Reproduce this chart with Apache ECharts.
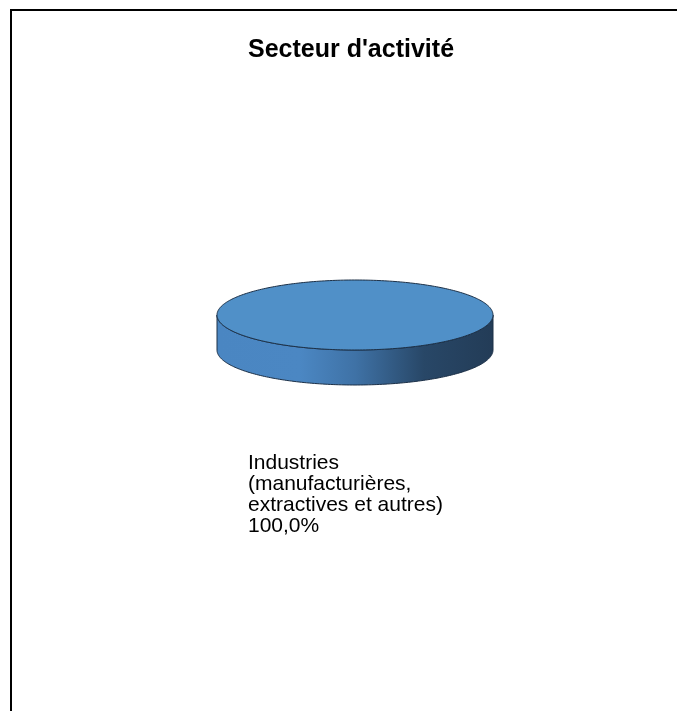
<!DOCTYPE html>
<html>
<head>
<meta charset="utf-8">
<title>Secteur d'activité</title>
<script src="https://cdn.jsdelivr.net/npm/echarts@6/dist/echarts.min.js"></script>
<style>
  html, body { margin: 0; padding: 0; background: #fff; }
  #chart { width: 677px; height: 711px; }
</style>
</head>
<body>
<div id="chart"></div>
<script>
// données du graphique
var categories = ['Industries\n(manufacturières,\nextractives et autres)'];
var values = [100];

var chart = echarts.init(document.getElementById('chart'));
var total = values.reduce(function (a, b) { return a + b; }, 0);

// géométrie du camembert 3D (ellipse)
var cx = 355, cy = 315, rx = 138, ry = 35, depth = 35;

function pt(a, dy) {
  return [cx + rx * Math.cos(a), cy + dy + ry * Math.sin(a)];
}

function arcPoints(s, e, dy) {
  var pts = [];
  var n = Math.max(2, Math.ceil(Math.abs(e - s) / 0.02));
  for (var i = 0; i <= n; i++) {
    pts.push(pt(s + (e - s) * i / n, dy));
  }
  return pts;
}

function frPercent(v) {
  return v.toFixed(1).replace('.', ',') + '%';
}

function renderSlice(params, api) {
  var idx = params.dataIndex;
  var before = 0;
  for (var i = 0; i < idx; i++) before += values[i];
  var v = api.value(0);
  var span = v / total * Math.PI * 2;
  var a0 = before / total * Math.PI * 2;
  var a1 = a0 + span;
  var full = span >= Math.PI * 2 - 1e-6;

  var children = [];

  // côté visible (moitié avant)
  [[0, Math.PI], [Math.PI * 2, Math.PI * 3]].forEach(function (r) {
    var s = full ? r[0] : Math.max(a0, r[0]);
    var e = full ? r[1] : Math.min(a1, r[1]);
    if (e <= s || (full && r[0] > 0)) return;
    var pts = arcPoints(s, e, 0).concat(arcPoints(e, s, depth));
    children.push({
      type: 'polygon',
      shape: { points: pts },
      style: {
        fill: {
          type: 'linear', global: true,
          x: cx - rx, y: 0, x2: cx + rx, y2: 0,
          colorStops: [
            { offset: 0, color: '#4a86c2' },
            { offset: 0.3, color: '#4b87c3' },
            { offset: 0.5, color: '#3f72a6' },
            { offset: 0.75, color: '#284767' },
            { offset: 1, color: '#233c57' }
          ]
        },
        stroke: '#1c3047',
        lineWidth: 1
      }
    });
  });

  // face supérieure
  var top = arcPoints(a0, a1, 0);
  if (!full) top.push([cx, cy]);
  children.push({
    type: 'polygon',
    shape: { points: top },
    style: { fill: '#5090c8', stroke: '#1c3047', lineWidth: 1 }
  });

  // étiquette
  children.push({
    type: 'text',
    x: cx - 107,
    y: cy + 138,
    style: {
      text: categories[idx] + '\n' + frPercent(v / total * 100),
      fill: '#000',
      fontSize: 21,
      lineHeight: 21,
      fontFamily: 'Liberation Sans, Arial, sans-serif'
    }
  });

  return { type: 'group', children: children };
}

chart.setOption({
  backgroundColor: '#fff',
  animation: false,
  title: {
    text: "Secteur d'activité",
    left: 243,
    top: 33,
    textStyle: {
      fontSize: 25,
      fontWeight: 'bold',
      color: '#000',
      fontFamily: 'Liberation Sans, Arial, sans-serif'
    }
  },
  graphic: [{
    type: 'rect',
    shape: { x: 11, y: 10, width: 800, height: 800 },
    style: { fill: 'none', stroke: '#000', lineWidth: 2 },
    silent: true
  }],
  series: [{
    type: 'custom',
    coordinateSystem: 'none',
    renderItem: renderSlice,
    data: values.map(function (v, i) {
      return { name: categories[i], value: [v] };
    })
  }]
});
</script>
</body>
</html>
